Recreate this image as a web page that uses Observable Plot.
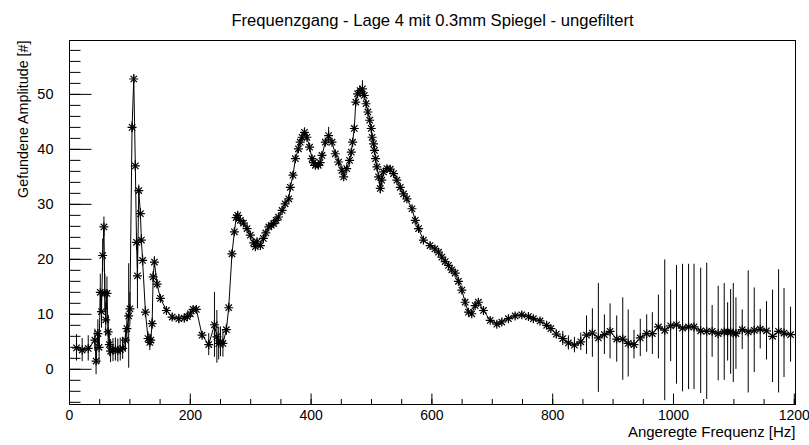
<!DOCTYPE html>
<html>
<head>
<meta charset="utf-8">
<script src="https://cdn.jsdelivr.net/npm/d3@7"></script>
<script src="https://cdn.jsdelivr.net/npm/@observablehq/plot@0.6"></script>
<style>
html,body{margin:0;padding:0;background:#fff;}
</style>
</head>
<body>
<div id="chart"></div>
<script>
const title = "Frequenzgang - Lage 4 mit 0.3mm Spiegel - ungefiltert";
const xTitle = "Angeregte Frequenz [Hz]";
const yTitle = "Gefundene Amplitude [#]";
const xTicks = [0, 200, 400, 600, 800, 1000, 1200];
const yTicks = [0, 10, 20, 30, 40, 50];
const xMinorTicks = d3.range(0, 1201, 50);
const yMinorTicks = d3.range(-6, 59, 2);

const freq = [11.6,21,31,42,44,47,49,51,53,55,57,58.5,60,62,64,66,68,72,76,80,84,88,92.6,95,98,100,103.6,106.4,109,111,112.5,114.7,117.4,119,121,125.7,130,133,134.5,136.8,138.5,140.6,145,150.5,160.5,170,181,190,195,200,204.6,210,219.5,230.5,240,244,247,250,254,259.7,263.6,269,273,276,278.5,283,288,294,299.4,305,307.7,310.5,316,321,325,330,334,338,342,346,352,357,363,365.6,370,374,379,382,385,389,393,397.5,401.5,404,407,412,415,418,423.5,429,434.6,440,445.5,451,454,459,463.7,466.5,468.7,471.5,474,477,481,485,488,491,494,497,499.6,501,503.4,505,506.7,509,511.7,514.5,517,520,525.5,531,536.5,542,547.6,553,558.6,567,572.4,578,586,597,605,611,616.5,622,627.5,633,638.5,644,649.6,655,660.5,666,671.6,677,685.4,696.5,707.5,715.8,726.7,737.8,748.9,759.8,768,779,790,797,806,816.7,826,836,846.5,856,865.7,875.6,885.6,895,906,916,925,934.6,945,955.6,965,975,985.5,995.3,1005,1015,1025,1034,1045,1055,1064,1074,1084,1089.6,1094.6,1099,1103.4,1113.8,1123.7,1133.7,1143.6,1154,1164,1174,1183,1193.8];
const amp = [3.9,3.5,3.8,5.3,1.5,6.5,4,14,10.5,20.7,25.9,13.8,9,13.8,6.8,4.5,3.3,3.5,3.6,3.4,3.6,3.8,5.3,7.4,9.7,11,44,52.8,37,23.1,17,32.5,28.3,23.5,19.8,10.4,5.6,4.9,5.3,8.3,16.8,19.5,15.5,12.9,10.7,9.5,9.2,9.3,9.6,10.1,10.9,10.9,6.2,4.5,8.1,5.9,4.7,5,4.7,7.2,11.2,21,25,27.6,28,27.1,26.6,25.6,24.4,23,22.3,23.2,22.5,23.8,24.8,25.9,26.2,26.5,27.1,27.7,28.9,30.1,31,33.1,35.3,38.3,40.1,41.3,42.2,43.1,42.2,40.4,38.3,37.6,37.1,37.1,37.6,38.9,41.3,42.5,41.3,39.2,37.7,36.2,35,36.5,38,39.5,41.3,43.8,48.6,50.1,50.7,51,49.8,48.3,46.8,45.3,43.8,42.2,41,39.8,38.3,36.8,35,32.9,34.4,35.9,36.5,36.4,35.6,34.4,33.1,31.9,31,29.2,27.1,25.6,23.5,22.5,21.9,21.3,20.4,19.6,18.9,18.1,17.5,16,14.4,12.2,10.4,10.1,11.6,12.2,10.7,8.9,8.2,8.6,9.2,9.7,9.9,9.6,9.2,8.8,8,7.4,6.4,5.6,4.8,4.4,5,6.2,6.6,5.7,6.3,6.9,5.5,5.5,4.7,4.5,5.7,6.5,6.5,7.7,7.1,7.9,8.1,7.5,7.7,7.7,7,6.9,6.9,6.5,6.8,6.8,6.8,6.6,6.5,7.2,6.8,7.1,7.3,7,6,6.9,6.6,6.3];
const err = [2.4,2.1,2.3,2,2.5,2.5,3,3.3,3,3,1.8,3.5,3,3,3,2.2,2.1,2.1,2.1,2.1,2.1,2,2,2.5,9.5,3,1,0.8,1,1.5,6,1,1,1,1,1,1.2,1.5,1,1,1,1,0.8,0.6,0.6,0.6,0.8,0.6,0.6,0.5,0.5,0.5,0.6,2,5.9,4.8,3,2.7,2.5,1,0.8,0.6,0.6,0.6,0.6,0.5,0.5,0.5,0.5,0.5,0.5,0.5,0.5,0.5,0.5,0.5,0.5,0.5,0.5,0.5,0.5,0.5,0.5,0.5,0.5,0.5,0.5,0.5,0.5,0.8,0.5,0.5,0.5,0.5,0.5,0.5,0.5,0.5,0.5,1.5,0.5,0.5,0.5,0.5,0.5,0.5,0.5,0.5,0.5,0.5,0.5,0.5,0.8,1.5,0.5,0.5,0.5,0.5,0.5,0.5,0.5,0.5,0.5,0.5,0.5,1,1.2,0.5,0.5,0.5,0.5,0.5,0.5,0.5,0.5,0.5,0.5,0.5,0.5,0.5,0.5,0.5,0.5,0.5,0.5,0.5,0.5,0.5,0.5,0.5,0.5,0.5,0.5,0.5,0.5,0.5,0.5,0.5,0.5,0.5,0.5,0.5,0.5,0.5,0.5,0.6,0.8,1.3,1.3,1.4,1.6,3.5,4.4,9.9,3.6,5,4.2,7.5,6.1,2.6,3.4,3.4,3.8,5.8,12.8,6.5,10.8,11.6,11.4,11.4,11.4,12.4,4.7,8.6,8.8,5.3,7.7,9,6.5,3.6,11.1,7.7,3.6,5.3,8.4,11.2,8.1,5,9.3];

const data = freq.map((f, i) => ({f, a: amp[i], e: err[i]}));

const W = 809, H = 445;
const mL = 69, mR = 14, mT = 40, mB = 41;
const xDom = [0, 1202], yDom = [-6.4, 59.8];
const pxX = (W - mL - mR) / (xDom[1] - xDom[0]);
const pxY = (H - mT - mB) / (yDom[1] - yDom[0]);

// inward tick segments (lengths converted from pixels to data units)
const xMinorSeg = xMinorTicks.map(v => ({x1: v, x2: v, y1: yDom[0], y2: yDom[0] + 5.5 / pxY}));
const xMajorSeg = xTicks.map(v => ({x1: v, x2: v, y1: yDom[0], y2: yDom[0] + 11 / pxY}));
const yMinorSeg = yMinorTicks.map(v => ({x1: xDom[0], x2: xDom[0] + 11 / pxX, y1: v, y2: v}));
const yMajorSeg = yTicks.map(v => ({x1: xDom[0], x2: xDom[0] + 22 / pxX, y1: v, y2: v}));
const tickSegs = [...xMinorSeg, ...xMajorSeg, ...yMinorSeg, ...yMajorSeg];

const font = "'Liberation Sans', Arial, Helvetica, sans-serif";
const fmt = d => String(d);

const chart = Plot.plot({
  width: W,
  height: H,
  marginLeft: mL,
  marginRight: mR,
  marginTop: mT,
  marginBottom: mB,
  x: {domain: xDom, axis: null},
  y: {domain: yDom, axis: null},
  style: {fontFamily: font, fontSize: "14px", background: "#fff", color: "#000", overflow: "visible"},
  marks: [
    Plot.frame({stroke: "#000", fill: "none", strokeWidth: 1}),
    Plot.link(tickSegs, {x1: "x1", y1: "y1", x2: "x2", y2: "y2", stroke: "#000", strokeWidth: 1}),
    Plot.axisX(xTicks, {anchor: "bottom", tickSize: 0, tickPadding: 6, fontSize: 14, tickFormat: fmt, label: null}),
    Plot.axisY(yTicks, {anchor: "left", tickSize: 0, tickPadding: 16, fontSize: 14.5, tickFormat: fmt, label: null}),
    Plot.ruleX(data, {x: "f", y1: d => d.a - d.e, y2: d => d.a + d.e, stroke: "#000", strokeWidth: 1}),
    Plot.line(data, {x: "f", y: "a", stroke: "#000", strokeWidth: 1}),
    Plot.dot(data, {x: "f", y: "a", symbol: "plus", r: 3, stroke: "#000", strokeWidth: 1.2}),
    Plot.dot(data, {x: "f", y: "a", symbol: "times", r: 3, stroke: "#000", strokeWidth: 1.2}),
    Plot.text([title], {frameAnchor: "top", dy: -26, fontSize: 16.6, fill: "#000"}),
    Plot.text([yTitle], {frameAnchor: "top-left", dx: -52, rotate: -90, textAnchor: "end", fontSize: 14.3, fill: "#000"}),
    Plot.text([xTitle], {frameAnchor: "bottom-right", dy: 32, textAnchor: "end", fontSize: 15, fill: "#000"})
  ]
});
document.getElementById("chart").appendChild(chart);
</script>
</body>
</html>
